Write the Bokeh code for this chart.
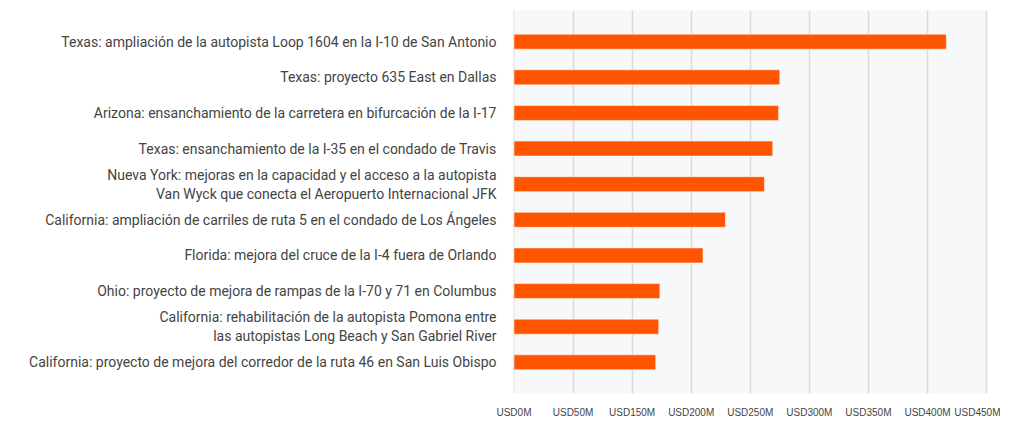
from bokeh.plotting import figure
from bokeh.models import Range1d, FactorRange, FixedTicker
from bokeh.embed import file_html
from bokeh.resources import INLINE

projects = [
    "Texas: ampliación de la autopista Loop 1604 en la I-10 de San Antonio",
    "Texas: proyecto 635 East en Dallas",
    "Arizona: ensanchamiento de la carretera en bifurcación de la I-17",
    "Texas: ensanchamiento de la I-35 en el condado de Travis",
    "Nueva York: mejoras en la capacidad y el acceso a la autopista\nVan Wyck que conecta el Aeropuerto Internacional JFK",
    "California: ampliación de carriles de ruta 5 en el condado de Los Ángeles",
    "Florida: mejora del cruce de la I-4 fuera de Orlando",
    "Ohio: proyecto de mejora de rampas de la I-70 y 71 en Columbus",
    "California: rehabilitación de la autopista Pomona entre\nlas autopistas Long Beach y San Gabriel River",
    "California: proyecto de mejora del corredor de la ruta 46 en San Luis Obispo",
]
values = [366, 225, 224, 219, 212, 179, 160, 123.5, 122.5, 120]

tick_values = [0, 50, 100, 150, 200, 250, 300, 350, 400]
tick_labels = ["USD0M", "USD50M", "USD150M", "USD200M", "USD250M",
               "USD300M", "USD350M", "USD400M", "USD450M"]

p = figure(
    width=1000, height=420,
    y_range=FactorRange(factors=list(reversed(projects)), range_padding=0.075),
    x_range=Range1d(-0.4, 400.8),
    output_backend="svg", toolbar_location=None,
    min_border_left=513, min_border_right=13, min_border_top=10, min_border_bottom=26,
)

p.hbar(y=projects, right=values, left=0, height=0.42,
       fill_color="#FF5500", line_color="#ffffff", line_alpha=0.5, line_width=1)

p.background_fill_color = "#f7f8fa"
p.border_fill_color = "#ffffff"
p.outline_line_color = None

p.xgrid.ticker = FixedTicker(ticks=tick_values)
p.xgrid.grid_line_color = "#d9dbde"
p.xgrid.grid_line_width = 1.5
p.ygrid.grid_line_color = None

p.xaxis.ticker = FixedTicker(ticks=tick_values)
p.xaxis.major_label_overrides = {v: l for v, l in zip(tick_values, tick_labels)}
p.xaxis.axis_line_color = None
p.xaxis.major_tick_line_color = None
p.xaxis.minor_tick_line_color = None
p.xaxis.major_tick_out = 0
p.xaxis.major_tick_in = 0
p.xaxis.major_label_text_font = "Liberation Sans"
p.xaxis.major_label_text_font_size = "10px"
p.xaxis.major_label_text_color = "#444444"
p.xaxis.major_label_standoff = 13

p.yaxis.axis_line_color = None
p.yaxis.major_tick_line_color = None
p.yaxis.minor_tick_line_color = None
p.yaxis.major_tick_out = 0
p.yaxis.major_tick_in = 0
p.yaxis.major_label_text_font = "Roboto"
p.yaxis.major_label_text_font_size = "14px"
p.yaxis.major_label_text_color = "#444444"
p.yaxis.major_label_standoff = 17

open("out.html", "w").write(file_html(p, INLINE))
